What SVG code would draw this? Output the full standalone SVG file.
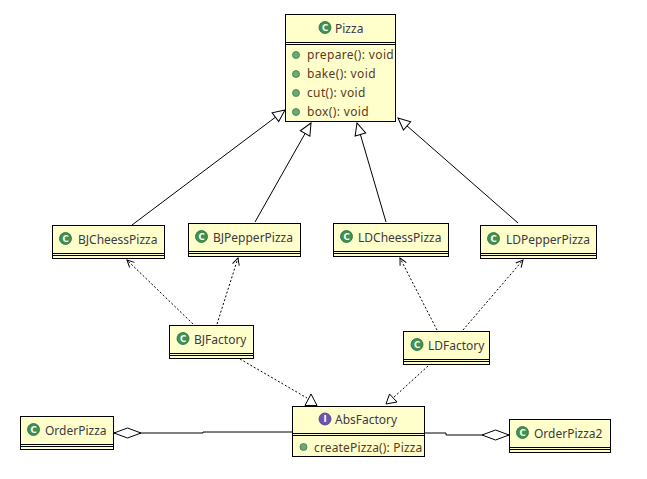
<svg xmlns="http://www.w3.org/2000/svg" width="647" height="479" viewBox="0 0 647 479">
<style>
.box{fill:#FFFFCC;stroke:#000;stroke-width:1}
.sep{stroke:#000;stroke-width:1;fill:none}
.name{font-family:"Noto Sans","Open Sans",sans-serif;font-size:12px;fill:#3c3a44}
.meth{font-family:"Noto Sans","Open Sans",sans-serif;font-size:12px;fill:#5a3a22;letter-spacing:0.35px}
.ic{fill:#3f9150;stroke:#2a6a38;stroke-width:0.8}
.ii{fill:#6f55b0;stroke:#4a3585;stroke-width:0.8}
.ict{font-family:"DejaVu Sans",sans-serif;font-size:8.5px;font-weight:bold;fill:#fff;text-anchor:middle}
.md{fill:#6aa975;stroke:#3e7a4a;stroke-width:0.8}
.ln{stroke:#000;stroke-width:1;fill:none}
.dash{stroke:#000;stroke-width:1;fill:none;stroke-dasharray:2,2}
.tri{fill:#fff;stroke:#000;stroke-width:1}
</style>
<defs>
<marker id="gen" markerUnits="userSpaceOnUse" markerWidth="16" markerHeight="16" viewBox="-14 -8 16 16" refX="0" refY="0" orient="auto">
<path d="M0,0 L-12,-5.5 L-12,5.5 Z" fill="#fff" stroke="#000" stroke-width="1"/>
</marker>
<marker id="dep" markerUnits="userSpaceOnUse" markerWidth="12" markerHeight="12" viewBox="-10 -6 12 12" refX="0" refY="0" orient="auto">
<path d="M-7,-3.5 L0,0 L-7,3.5" fill="none" stroke="#000" stroke-width="1"/>
</marker>
<marker id="agg" markerUnits="userSpaceOnUse" markerWidth="30" markerHeight="14" viewBox="-1 -7 30 14" refX="0" refY="0" orient="auto">
<path d="M0,0 L13.5,-5 L27,0 L13.5,5 Z" fill="#fff" stroke="#000" stroke-width="1"/>
</marker>
</defs>

<g id="connectors">
<path class="ln" d="M132,225 L285,110" marker-end="url(#gen)"/>
<path class="ln" d="M255,222 L311,123" marker-end="url(#gen)"/>
<path class="ln" d="M386,222 L357,123" marker-end="url(#gen)"/>
<path class="ln" d="M518,223 L398,118" marker-end="url(#gen)"/>
<path class="dash" d="M193,324 L127,260" marker-end="url(#dep)"/>
<path class="dash" d="M217,324 L238,258" marker-end="url(#dep)"/>
<path class="dash" d="M437,330 L400,258" marker-end="url(#dep)"/>
<path class="dash" d="M463,330 L523,260" marker-end="url(#dep)"/>
<path class="dash" d="M240,359 L307,398"/>
<polygon class="tri" points="311,394 305,405.5 317,405.5"/>
<path class="dash" d="M428,366 L393,398"/>
<polygon class="tri" points="386,404 389.5,394 397,402"/>
<path class="ln" d="M114,433 L203,433 L203,432 L292,432" marker-start="url(#agg)"/>
<path class="ln" d="M509,435 L446,435 L446,433 L425,433" marker-start="url(#agg)"/>
</g>

<g id="Pizza">
<rect class="box" x="285.5" y="14.5" width="110" height="107"/>
<path class="sep" d="M285.5,42.5 H395.5 M285.5,44.5 H395.5"/>
<circle class="ic" cx="325" cy="27.5" r="6"/><text class="ict" x="325" y="30.5">C</text>
<text class="name" x="335" y="33">Pizza</text>
<circle class="md" cx="296" cy="55" r="3.5"/><text class="meth" x="307" y="59">prepare(): void</text>
<circle class="md" cx="296" cy="74" r="3.5"/><text class="meth" x="307" y="78">bake(): void</text>
<circle class="md" cx="296" cy="93" r="3.5"/><text class="meth" x="307" y="97">cut(): void</text>
<circle class="md" cx="296" cy="112" r="3.5"/><text class="meth" x="307" y="116">box(): void</text>
</g>

<g id="BJCheessPizza">
<rect class="box" x="52.5" y="225.5" width="112" height="33"/>
<path class="sep" d="M52.5,253.5 H164.5 M52.5,255.5 H164.5"/>
<circle class="ic" cx="65.5" cy="238.5" r="6"/><text class="ict" x="65.5" y="241.5">C</text>
<text class="name" x="78" y="244">BJCheessPizza</text>
</g>

<g id="BJPepperPizza">
<rect class="box" x="188.5" y="223.5" width="112" height="33"/>
<path class="sep" d="M188.5,251.5 H300.5 M188.5,253.5 H300.5"/>
<circle class="ic" cx="201.5" cy="236.5" r="6"/><text class="ict" x="201.5" y="239.5">C</text>
<text class="name" x="213" y="242">BJPepperPizza</text>
</g>

<g id="LDCheessPizza">
<rect class="box" x="333.5" y="223.5" width="115" height="33"/>
<path class="sep" d="M333.5,251.5 H448.5 M333.5,253.5 H448.5"/>
<circle class="ic" cx="346.5" cy="236.5" r="6"/><text class="ict" x="346.5" y="239.5">C</text>
<text class="name" x="358" y="242">LDCheessPizza</text>
</g>

<g id="LDPepperPizza">
<rect class="box" x="480.5" y="225.5" width="116" height="33"/>
<path class="sep" d="M480.5,253.5 H596.5 M480.5,255.5 H596.5"/>
<circle class="ic" cx="493.5" cy="238.5" r="6"/><text class="ict" x="493.5" y="241.5">C</text>
<text class="name" x="506" y="244">LDPepperPizza</text>
</g>

<g id="BJFactory">
<rect class="box" x="169.5" y="325.5" width="84" height="33"/>
<path class="sep" d="M169.5,353.5 H253.5 M169.5,355.5 H253.5"/>
<circle class="ic" cx="183" cy="338.5" r="6"/><text class="ict" x="183" y="341.5">C</text>
<text class="name" x="194" y="344">BJFactory</text>
</g>

<g id="LDFactory">
<rect class="box" x="403.5" y="331.5" width="86" height="33"/>
<path class="sep" d="M403.5,359.5 H489.5 M403.5,361.5 H489.5"/>
<circle class="ic" cx="417" cy="344.5" r="6"/><text class="ict" x="417" y="347.5">C</text>
<text class="name" x="428" y="350">LDFactory</text>
</g>

<g id="OrderPizza">
<rect class="box" x="20.5" y="416.5" width="93" height="33"/>
<path class="sep" d="M20.5,444.5 H113.5 M20.5,446.5 H113.5"/>
<circle class="ic" cx="33.5" cy="429.5" r="6"/><text class="ict" x="33.5" y="432.5">C</text>
<text class="name" x="45" y="435">OrderPizza</text>
</g>

<g id="AbsFactory">
<rect class="box" x="292.5" y="406.5" width="132" height="50"/>
<path class="sep" d="M292.5,433.5 H424.5 M292.5,435.5 H424.5"/>
<circle class="ii" cx="325" cy="419" r="6"/><text class="ict" x="325" y="422">I</text>
<text class="name" x="335" y="424">AbsFactory</text>
<circle class="md" cx="303.5" cy="447" r="3.5"/><text class="meth" x="314" y="451.5" style="letter-spacing:0.15px">createPizza(): Pizza</text>
</g>

<g id="OrderPizza2">
<rect class="box" x="509.5" y="419.5" width="101" height="33"/>
<path class="sep" d="M509.5,447.5 H610.5 M509.5,449.5 H610.5"/>
<circle class="ic" cx="522.5" cy="432.5" r="6"/><text class="ict" x="522.5" y="435.5">C</text>
<text class="name" x="534" y="438">OrderPizza2</text>
</g>
</svg>
